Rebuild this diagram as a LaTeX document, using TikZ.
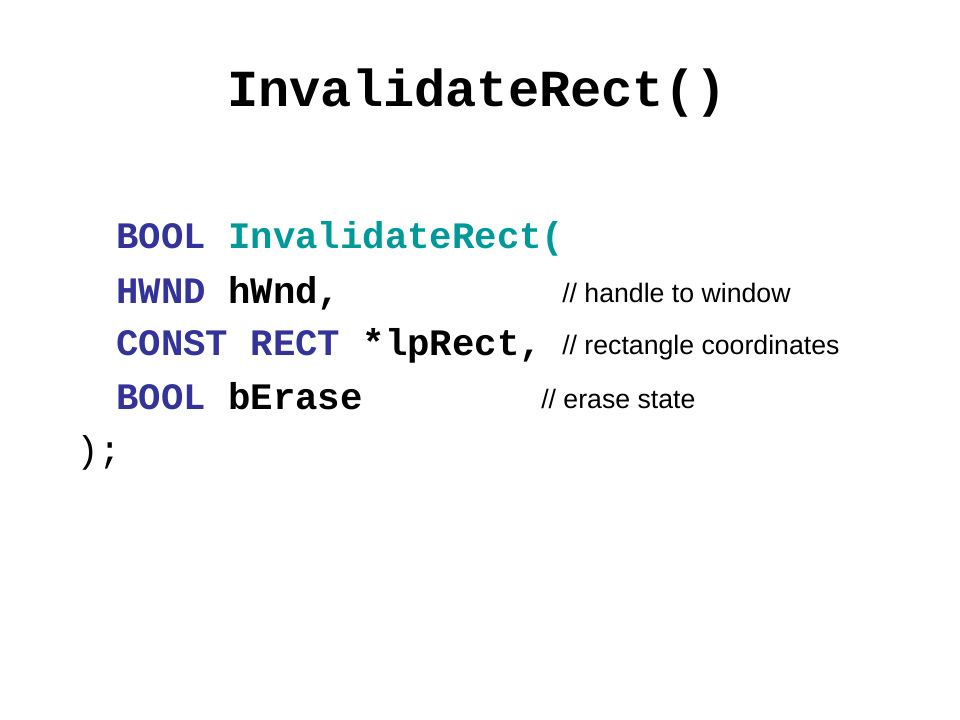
\documentclass[tikz,border=0pt]{standalone}
\usepackage{fontspec}
\setmonofont{Liberation Mono}
\setsansfont{Liberation Sans}
\usepackage{xcolor}
\definecolor{kwblue}{HTML}{333399}
\definecolor{fnteal}{HTML}{009999}
\tikzset{
  slidetitle/.style={font=\ttfamily\bfseries\fontsize{39}{44}\selectfont,inner sep=0pt,anchor=base},
  codeline/.style={font=\ttfamily\bfseries\fontsize{28}{32}\selectfont,inner sep=0pt,anchor=base west},
  comment/.style={font=\sffamily\fontsize{20}{24}\selectfont,inner sep=0pt,anchor=base west}
}
\newcommand{\kw}[1]{\textcolor{kwblue}{#1}}
\newcommand{\fn}[1]{\textcolor{fnteal}{#1}}
\begin{document}
\begin{tikzpicture}[x=0.75pt,y=-0.75pt]
\useasboundingbox[fill=white] (0,0) rectangle (960,720);

%title
\node[slidetitle] (title) at (477,107) {InvalidateRect()};

%code
\node[codeline] (decl) at (116,249) {\kw{BOOL} \fn{InvalidateRect(}};
\node[codeline] (hwnd) at (116,303) {\kw{HWND} hWnd,};
\node[codeline] (rect) at (116,355) {\kw{CONST RECT} *lpRect,};
\node[codeline] (erase) at (116,409) {\kw{BOOL} bErase};
\node[codeline,font=\ttfamily\fontsize{28}{32}\selectfont] (close) at (76,462) {);};

%comments
\node[comment] (hwndnote) at (562,302) {// handle to window};
\node[comment] (rectnote) at (562,354) {// rectangle coordinates};
\node[comment] (erasenote) at (541,408) {// erase state};
\end{tikzpicture}
\end{document}
